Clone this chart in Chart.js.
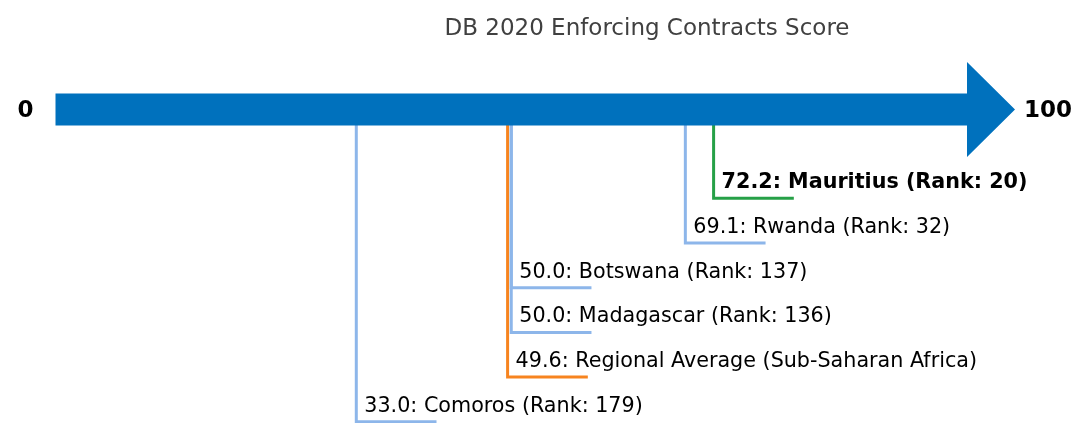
<!DOCTYPE html>
<html>
<head>
<meta charset="utf-8">
<script src="https://cdn.jsdelivr.net/npm/chart.js@4"></script>
<style>
    body { margin: 0; background: #fff; }
    #wrap { width: 1075px; height: 423px; }
</style>
</head>
<body>
<div id="wrap"><canvas id="myChart"></canvas></div>
<script>
const chartTitle = 'DB 2020 Enforcing Contracts Score';
const names = ['Mauritius', 'Rwanda', 'Botswana', 'Madagascar', 'Regional Average (Sub-Saharan Africa)', 'Comoros'];
const scores = [72.2, 69.1, 50.0, 50.0, 49.6, 33.0];
const ranks = [20, 32, 137, 136, null, 179];
const rows = [2, 3, 4, 5, 6, 7];
const axisMin = 0;
const axisMax = 100;

const focusIndex = 0;   // the economy being profiled
const regionIndex = 4;  // the regional average
const TAIL = 8.8;       // length of the horizontal foot, in score units

function colorFor(i) {
    if (i === focusIndex) return '#26a047';
    if (i === regionIndex) return '#f7841f';
    return '#8db6ea';
}

function labelFor(i) {
    let txt = scores[i].toFixed(1) + ': ' + names[i];
    if (ranks[i] !== null) txt += ' (Rank: ' + ranks[i] + ')';
    return txt;
}

var datasets = names.map(function (name, i) {
    return {
        label: name,
        data: [
            { x: scores[i], y: 0 },
            { x: scores[i], y: rows[i] },
            { x: scores[i] + TAIL, y: rows[i] }
        ],
        borderColor: colorFor(i),
        borderWidth: 3,
        pointRadius: 0,
        fill: false,
        tension: 0,
        borderJoinStyle: 'miter',
        borderCapStyle: 'butt'
    };
});

// big arrow along the score axis, end labels, leader labels and title
const arrowPlugin = {
    id: 'arrowAxis',
    afterDatasetsDraw(chart) {
        const ctx = chart.ctx;
        const xs = chart.scales.x;
        const ys = chart.scales.y;
        const x0 = xs.getPixelForValue(axisMin);
        const x1 = xs.getPixelForValue(axisMax);
        const cy = ys.getPixelForValue(0) + 0.6;
        const half = 16;
        const headHalf = 47.5;
        const tip = x1 + 48;

        ctx.save();
        ctx.fillStyle = '#0071bd';
        ctx.beginPath();
        ctx.moveTo(x0, cy - half);
        ctx.lineTo(x1, cy - half);
        ctx.lineTo(x1, cy - headHalf);
        ctx.lineTo(tip, cy);
        ctx.lineTo(x1, cy + headHalf);
        ctx.lineTo(x1, cy + half);
        ctx.lineTo(x0, cy + half);
        ctx.closePath();
        ctx.fill();

        ctx.fillStyle = '#000';
        ctx.font = 'bold 23px "DejaVu Sans"';
        ctx.textBaseline = 'alphabetic';
        ctx.textAlign = 'right';
        ctx.fillText(String(axisMin), x0 - 22, cy + 8);
        ctx.textAlign = 'left';
        ctx.fillText(String(axisMax), tip + 9, cy + 8);

        names.forEach(function (name, i) {
            const px = xs.getPixelForValue(scores[i]);
            const py = ys.getPixelForValue(rows[i]);
            ctx.font = (i === focusIndex ? 'bold ' : '') + '20.7px "DejaVu Sans"';
            ctx.fillStyle = '#000';
            ctx.textAlign = 'left';
            ctx.fillText(labelFor(i), px + 8, py - 10);
        });

        ctx.font = '23px "DejaVu Sans"';
        ctx.fillStyle = '#404040';
        ctx.textAlign = 'center';
        ctx.fillText(chartTitle, 647, 35);
        ctx.restore();
    }
};

var ctx = document.getElementById('myChart').getContext('2d');
var myChart = new Chart(ctx, {
    type: 'line',
    data: { datasets: datasets },
    options: {
        responsive: true,
        maintainAspectRatio: false,
        animation: false,
        layout: { padding: { left: 55.5, right: 108, top: 0, bottom: 0 } },
        scales: {
            x: { type: 'linear', min: axisMin, max: axisMax, display: false },
            y: { type: 'linear', min: -2.436, max: 7.027, reverse: true, display: false }
        },
        plugins: {
            legend: { display: false },
            tooltip: { enabled: false },
            title: { display: false }
        },
        elements: { line: { clip: false } },
        datasets: { line: { clip: false } }
    },
    plugins: [arrowPlugin]
});
</script>
</body>
</html>
